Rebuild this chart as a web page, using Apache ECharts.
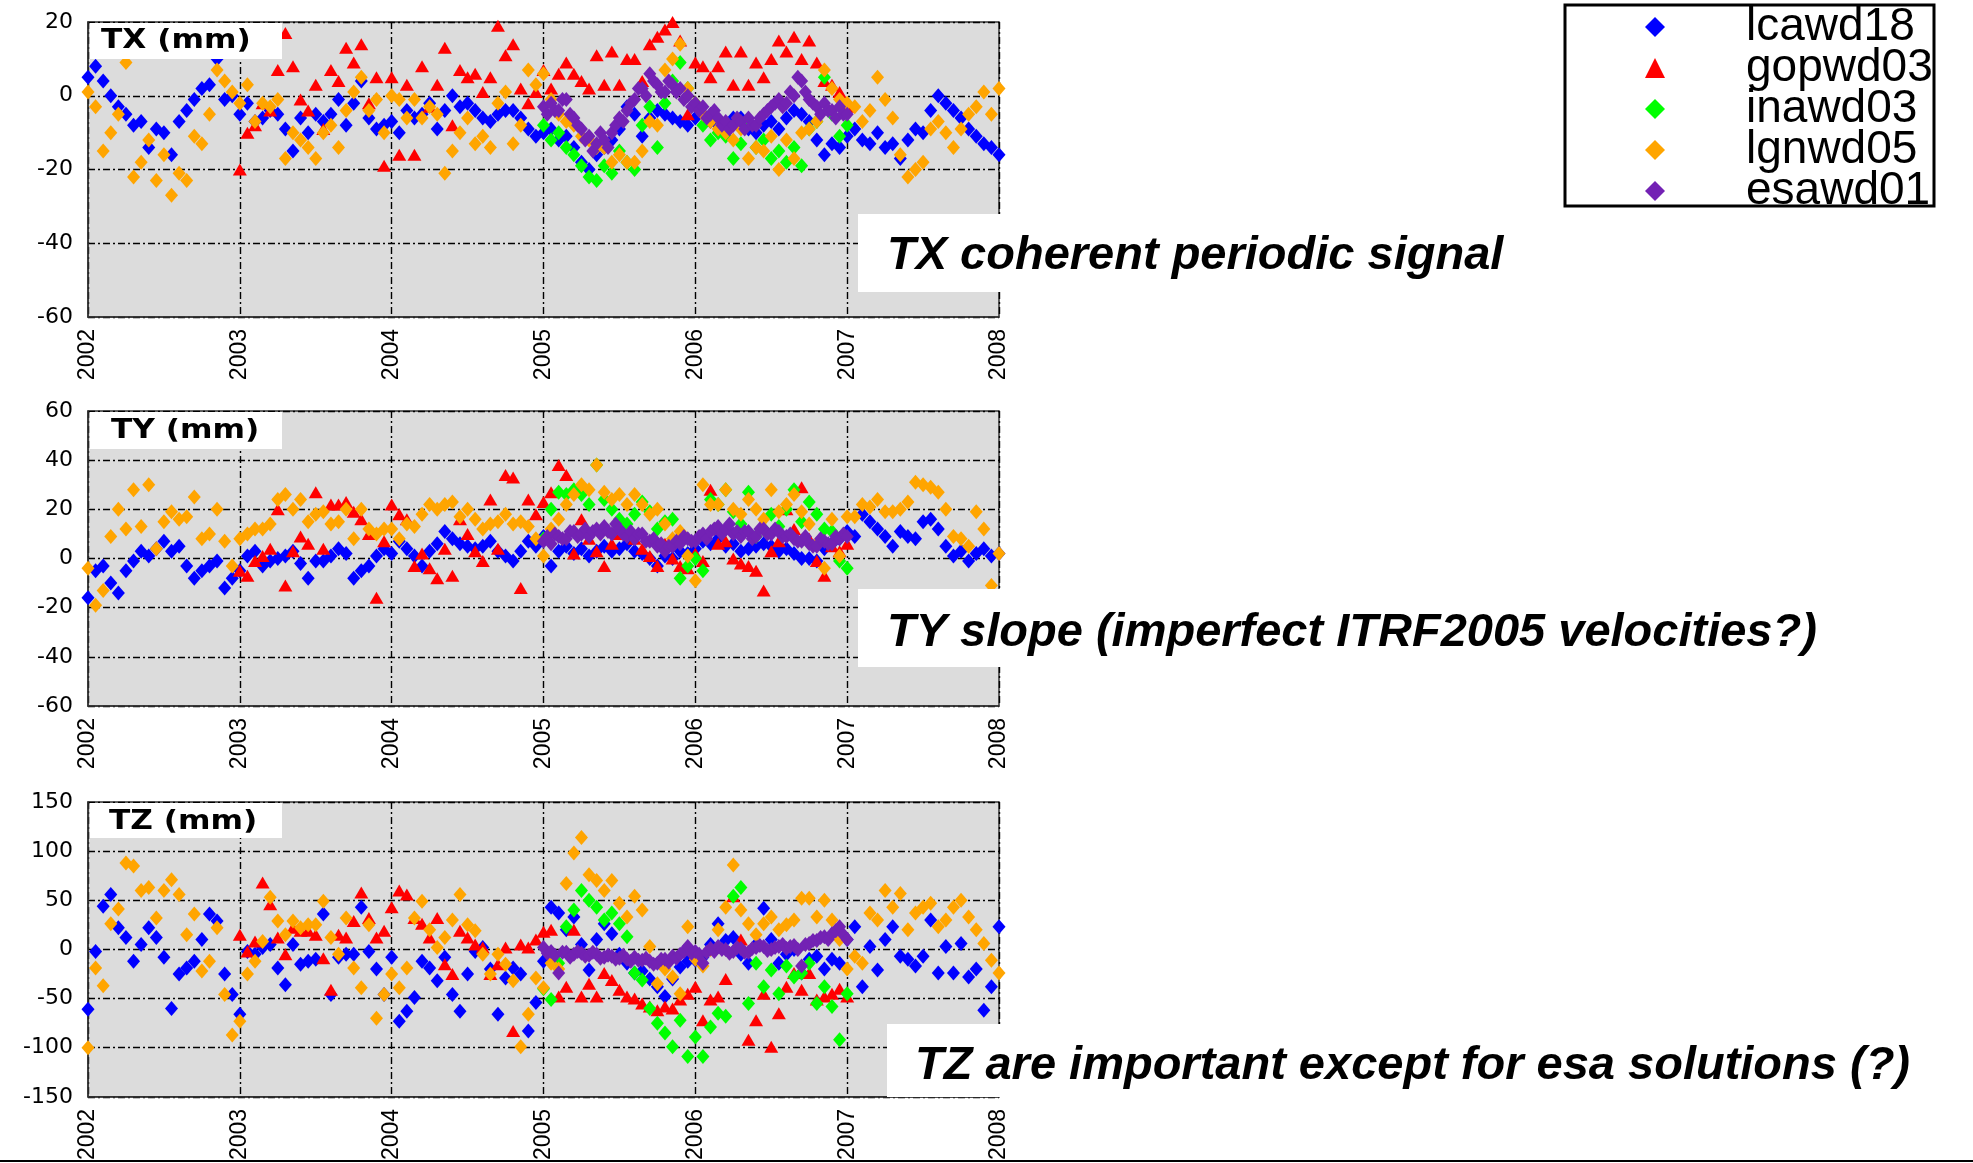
<!DOCTYPE html>
<html>
<head>
<meta charset="utf-8">
<script src="https://cdn.jsdelivr.net/npm/echarts@6/dist/echarts.min.js"></script>
<style>
html,body{margin:0;padding:0;background:#ffffff;}
#chart{width:1973px;height:1163px;}
</style>
</head>
<body>
<div id="chart"></div>
<script>
// ---------- categories / labels ----------
const seriesNames = ['lcawd18', 'gopwd03', 'inawd03', 'lgnwd05', 'esawd01'];
const yearTicks = [2002, 2003, 2004, 2005, 2006, 2007, 2008];
const panelTitles = ['TX (mm)', 'TY (mm)', 'TZ (mm)'];
const annotationTexts = [
  'TX coherent periodic signal',
  'TY slope (imperfect ITRF2005 velocities?)',
  'TZ are important except for esa solutions (?)'
];
// first epoch (decimal year) and sampling step (yr) of each solution series
const seriesStartYear = { lcawd18: 2002, gopwd03: 2003, inawd03: 2005, lgnwd05: 2002, esawd01: 2005 };
const seriesStepYear = { lcawd18: 0.05, gopwd03: 0.05, inawd03: 0.05, lgnwd05: 0.05, esawd01: 0.025 };

// ---------- TX (mm) ----------
const tx_lcawd18 = [
  5, 8, 4, 0, -3, -5, -8, -7, -14, -9, -10, -16, -7, -4, -1, 2, 3, 10, -1, 0,
  -5, -2, -7, -6, -4, -5, -9, -15, -6, -10, -5, -7, -5, -1, -8, -2, 4, -6, -9, -8,
  -7, -10, -4, -6, -5, -2, -9, -4, 0, -3, -2, -4, -6, -7, -5, -4, -4, -6, -9, -11,
  -10, -9, -12, -11, -14, -18, -20, -16, -14, -12, -9, -3, -5, -11, -6, -4, -5, -6, -7, -8,
  -6, -5, -7, -8, -9, -6, -6, -9, -10, -8, -7, -9, -6, -4, -5, -7, -12, -16, -13, -14,
  -11, -9, -12, -13, -10, -14, -13, -17, -12, -9, -10, -4, 0, -2, -4, -6, -9, -11, -13, -14,
  -16
];
const tx_gopwd03 = [
  -20, -10, -8, -2, -4, 7, 17, 8, -1, -4, 3, -9, 7, 4, 13, 9, 14, -2, 5, -19,
  5, -16, 3, -16, 8, -3, 3, 13, -8, 7, 5, 6, 1, 5, 19, 11, 14, 2, -2, 1,
  7, 2, 6, 9, 6, 4, 2, 11, 3, 12, 3, 10, 10, 4, 14, 16, 18, 20, 15, -5,
  9, 8, 5, 8, 12, 3, 12, 3, 9, 5, 10, 15, 12, 16, 10, 15, 9, 4, 3, 1,
  -3
];
const tx_inawd03 = [
  -8, -12, -10, -14, -16, -19, -22, -23, -19, -21, -15, -18, -20, -8, -3, -14, -2, 4, 9, 2,
  -2, -8, -12, -10, -11, -17, -13, -7, -14, -12, -17, -15, -18, -14, -19, -9, -7, 5, -5, -11,
  -8
];
const tx_lgnwd05 = [
  1, -3, -15, -10, -5, 9, -22, -18, -12, -23, -16, -27, -21, -23, -11, -13, -5, 7, 4, 1,
  -2, 3, -7, -2, -3, -1, -17, -10, -12, -14, -17, -10, -8, -14, -4, 1, 5, -4, -1, -10,
  0, -1, -6, -1, -6, -3, -5, -21, -15, -10, -6, -13, -11, -14, -2, 1, -13, -8, 7, 3,
  6, -1, -5, -7, -8, -11, -12, -14, -14, -18, -16, -18, -18, -15, -7, -8, 7, 10, 14, 2,
  -2, -5, -7, -9, -10, -12, -9, -17, -14, -15, -11, -20, -12, -17, -10, -9, -7, 7, 2, -1,
  -2, -3, -7, -4, 5, -1, -6, -16, -22, -20, -18, -9, -7, -10, -14, -9, -5, -3, 1, -5,
  2
];
const tx_esawd01 = [
  -3, -5, -2, -4, -4, -1, -1, -5, -6, -8, -9, -12, -11, -15, -13, -10, -12, -14, -10, -8,
  -6, -7, -4, -2, -1, 2, 2, 0, 6, 4, 3, 1, 1, 4, 3, 1, 2, -1, 0, -3,
  -2, -4, -3, -6, -5, -4, -6, -8, -7, -9, -8, -6, -7, -9, -6, -8, -8, -6, -5, -4,
  -3, -2, -1, -3, -2, 1, 0, 5, 4, 1, -1, -2, -3, -5, -2, -4, -4, -6, -3, -5,
  -5
];

// ---------- TY (mm) ----------
const ty_lcawd18 = [
  -16, -5, -3, -10, -14, -5, -1, 3, 1, 4, 7, 3, 5, -3, -8, -5, -3, -1, -12, -8,
  -5, 1, 3, -3, -1, 0, 1, 3, -2, -8, -1, -1, 1, 4, 2, -8, -5, -3, 1, 4,
  2, 7, 4, 1, -3, 3, 6, 11, 8, 6, 5, 4, 5, 7, 3, 1, -1, 3, 7, 5,
  9, -3, 3, 5, 2, 4, 1, 3, 5, 3, 4, 6, 3, 2, 0, -3, 1, 0, 3, 2,
  4, 7, 6, 8, 5, 6, 3, 4, 5, 6, 5, 3, 4, 2, 0, 0, -1, 4, 6, 8,
  11, 9, 18, 15, 12, 9, 5, 11, 9, 8, 15, 16, 12, 5, 1, 3, -1, 2, 4, 1,
  2
];
const ty_gopwd03 = [
  -5, -7, -1, 1, 4, 20, -11, 3, 9, 6, 27, 4, 22, 22, 23, 19, 16, 10, -16, 7,
  22, 18, 16, -3, 2, -4, -8, 4, -7, 16, 10, 3, -1, 24, 4, 34, 33, -12, 24, 18,
  23, 27, 38, 34, 2, 16, 8, 3, -3, 6, 10, 14, 8, 4, 1, -3, 6, 0, -3, -4,
  2, -1, 28, 6, 7, 0, -2, -3, -5, -13, 3, 7, 20, 12, 29, 8, -1, -7, 5, 3,
  6
];
const ty_inawd03 = [
  8, 20, 27, 26, 28, 26, 22, 38, 24, 20, 16, 14, 18, 23, 19, 12, 15, 16, -8, -3,
  0, -5, 24, 22, 28, 19, 14, 27, 9, 12, 18, 13, 20, 28, 15, 23, 18, 12, 11, -1,
  -4
];
const ty_lgnwd05 = [
  -4, -19, -13, 9, 20, 12, 28, 13, 30, 4, 15, 19, 16, 17, 25, 8, 10, 20, 7, -3,
  8, 10, 12, 12, 14, 24, 26, 20, 24, 15, 18, 19, 14, 15, 20, 8, 20, 12, 10, 12,
  12, 8, 14, 13, 18, 22, 20, 22, 23, 17, 20, 16, 12, 14, 15, 18, 14, 15, 13, 8,
  1, 12, 16, 22, 26, 30, 28, 38, 27, 24, 26, 22, 26, 22, 18, 20, 14, 8, 11, 1,
  -9, 30, 22, 22, 28, 20, 18, 24, 20, 16, 28, 19, 22, 26, 19, 14, 6, -4, 16, 1,
  17, 17, 22, 21, 24, 19, 19, 20, 23, 31, 30, 29, 27, 20, 9, 8, 5, 19, 12, -11,
  2
];
const ty_esawd01 = [
  7, 9, 6, 10, 9, 8, 8, 11, 11, 9, 10, 12, 9, 11, 12, 10, 13, 11, 10, 14,
  12, 10, 9, 11, 8, 10, 10, 7, 7, 8, 5, 6, 3, 5, 5, 7, 6, 9, 8, 7,
  7, 9, 10, 8, 11, 12, 13, 10, 12, 14, 10, 11, 9, 11, 11, 8, 9, 12, 12, 10,
  10, 12, 11, 9, 9, 10, 8, 7, 7, 9, 6, 5, 5, 8, 7, 6, 6, 9, 8, 10,
  9
];

// ---------- TZ (mm) ----------
const tz_lcawd18 = [
  -61, -2, 44, 56, 22, 12, -12, 5, 22, 12, -8, -60, -25, -19, -12, 10, 36, 29, -25, -46,
  -66, -2, -5, 2, 5, -19, -36, 5, -15, -12, -10, 36, -46, -8, -5, -5, 43, -2, -20, -46,
  -8, -73, -63, -49, -12, -19, -32, -8, -46, -63, -25, -2, 2, -20, -66, -29, -19, -25, -83, -54,
  -12, 43, 37, 20, 33, 5, -21, 10, 26, 16, -5, -14, -24, -22, -30, -38, -48, -30, -18, -12,
  -11, -8, 5, 26, 9, 12, -5, -14, 5, 42, 10, -14, -5, 0, -24, -10, -7, -20, -10, -14,
  10, 23, -38, 3, -21, 10, 23, -7, -10, -17, -7, 30, -24, 3, -24, 6, -28, -20, -62, -38,
  23
];
const tz_gopwd03 = [
  15, -2, 8, 68, 46, 12, -5, 22, 19, 19, 15, -9, -41, 15, 12, 29, 58, 32, 12, 19,
  43, 60, 56, 32, 26, 12, 32, -15, -25, 19, 12, 5, 2, -25, -15, 2, -83, 5, 2, 10,
  18, 20, -48, -38, 20, -48, -35, -48, -24, -31, -41, -48, -50, -55, -58, -62, -58, -60, -51, -45,
  -38, -72, -51, -48, -30, 54, 10, -92, -72, -45, -99, -65, -38, -24, -41, -24, -51, -48, -45, -40,
  -48
];
const tz_inawd03 = [
  -40, -51, -14, 23, 40, 60, 50, 43, 30, 37, 26, 13, -24, -31, -60, -75, -85, -99, -72, -109,
  -89, -109, -79, -65, -68, 54, 63, -55, -14, -38, -21, -45, -17, -28, -24, -14, -55, -38, -58, -92,
  -45
];
const tz_lgnwd05 = [
  -100, -19, -37, 26, 41, 88, 85, 60, 63, 32, 60, 71, 56, 15, 36, -22, -12, 22, -46, -87,
  -73, -25, -12, 8, 53, 29, 15, 29, 22, 25, 25, 49, 12, -5, 32, -19, -39, 25, -70, -46,
  -25, -39, -19, 32, 49, 20, 2, 12, 30, 56, 25, 19, -5, -25, -5, -15, -32, -99, -66, -29,
  -39, -14, -20, 67, 98, 114, 76, 70, 60, 70, 47, 33, 54, 40, 3, -35, -20, -28, -45, 23,
  -10, -17, 0, 20, 43, 86, 40, 26, 15, 26, 33, 20, 25, 30, 52, 52, 33, 50, 30, 10,
  -20, -7, -14, 37, 30, 60, 43, 57, 20, 37, 43, 47, 23, 30, 43, 50, 33, 20, 6, -11,
  -24
];
const tz_esawd01 = [
  2, -4, -2, -6, -24, -3, -3, -8, -5, -2, -4, -7, -6, -3, -5, -9, -8, -6, -7, -10,
  -9, -6, -10, -12, -8, -11, -11, -9, -12, -15, -14, -10, -10, -13, -7, -9, -5, -2, 3, -4,
  -2, -5, -14, -3, 1, -2, 3, 0, 0, -4, -2, 2, 1, -3, -3, 1, 2, 4, 3, -1,
  0, 2, 3, 5, 1, 3, 4, 0, -17, 5, 6, 9, 9, 12, 13, 10, 16, 19, 23, 15,
  10
];

// ---------- assemble ----------
const panelValues = [
  { lcawd18: tx_lcawd18, gopwd03: tx_gopwd03, inawd03: tx_inawd03, lgnwd05: tx_lgnwd05, esawd01: tx_esawd01 },
  { lcawd18: ty_lcawd18, gopwd03: ty_gopwd03, inawd03: ty_inawd03, lgnwd05: ty_lgnwd05, esawd01: ty_esawd01 },
  { lcawd18: tz_lcawd18, gopwd03: tz_gopwd03, inawd03: tz_inawd03, lgnwd05: tz_lgnwd05, esawd01: tz_esawd01 }
];
const yRanges = [
  { min: -60, max: 20, interval: 20 },
  { min: -60, max: 60, interval: 20 },
  { min: -150, max: 150, interval: 50 }
];

const styleOf = {
  lcawd18: { color: '#0000ff', symbol: 'diamond', size: [13, 15] },
  gopwd03: { color: '#ff0000', symbol: 'triangle', size: [14, 12] },
  inawd03: { color: '#00ff00', symbol: 'diamond', size: [13, 15] },
  lgnwd05: { color: '#ffa500', symbol: 'diamond', size: [13, 15] },
  esawd01: { color: '#7322b4', symbol: 'diamond', size: [13, 15] }
};

const gridTops = [22, 411, 802];
const grids = gridTops.map(t => ({
  left: 88, top: t, width: 911, height: 295,
  show: true, backgroundColor: '#dcdcdc', borderColor: '#333', borderWidth: 1.5
}));

const dashDot = [7, 3, 2, 3];
const xAxes = gridTops.map((t, i) => ({
  type: 'value', gridIndex: i, min: yearTicks[0], max: yearTicks[yearTicks.length - 1], interval: 1,
  axisLine: { show: true, onZero: false, lineStyle: { color: '#333', width: 1.5 } },
  axisTick: { show: false },
  splitLine: { show: true, lineStyle: { color: '#000', width: 1.4, type: dashDot } },
  axisLabel: {
    rotate: 90, margin: 12, color: '#000', fontFamily: 'Liberation Sans', fontSize: 23,
    formatter: v => String(v)
  }
}));
const yAxes = yRanges.map((r, i) => ({
  type: 'value', gridIndex: i, min: r.min, max: r.max, interval: r.interval,
  axisLine: { show: true, onZero: false, lineStyle: { color: '#333', width: 1.5 } },
  axisTick: { show: false },
  splitLine: { show: true, lineStyle: { color: '#000', width: 1.4, type: dashDot } },
  axisLabel: { margin: 15, color: '#000', fontFamily: 'DejaVu Sans', fontSize: 22 }
}));

const series = [];
panelValues.forEach((pv, p) => {
  seriesNames.forEach((name, k) => {
    const st = styleOf[name];
    const start = seriesStartYear[name];
    const step = seriesStepYear[name];
    series.push({
      type: 'scatter', name: name, xAxisIndex: p, yAxisIndex: p,
      symbol: st.symbol, symbolSize: st.size,
      itemStyle: { color: st.color, opacity: 1 },
      z: 2 + k,
      silent: true,
      data: pv[name].map((v, i) => [+(start + i * step).toFixed(3), v])
    });
  });
});

const titleBoxes = [
  { x: 90, y: 23, w: 192, h: 36, tx: 101, ty: 41 },
  { x: 90, y: 412, w: 192, h: 37, tx: 111, ty: 431 },
  { x: 90, y: 803, w: 192, h: 35, tx: 109, ty: 822 }
];
const noteBoxes = [
  { x: 858, y: 214, w: 680, h: 78, tx: 887, ty: 256 },
  { x: 858, y: 589, w: 990, h: 78, tx: 887, ty: 633 },
  { x: 887, y: 1024, w: 1060, h: 73, tx: 915, ty: 1066 }
];

const graphic = [];
titleBoxes.forEach((b, i) => {
  graphic.push({ type: 'rect', z: 100, shape: { x: b.x, y: b.y, width: b.w, height: b.h }, style: { fill: '#ffffff' } });
  graphic.push({ type: 'text', z: 101, x: b.tx, y: b.ty, scaleX: 1.2,
    style: { text: panelTitles[i], font: 'bold 26px "DejaVu Sans"', fill: '#000', verticalAlign: 'middle', textVerticalAlign: 'middle' } });
});
noteBoxes.forEach((b, i) => {
  graphic.push({ type: 'rect', z: 100, shape: { x: b.x, y: b.y, width: b.w, height: b.h }, style: { fill: '#ffffff' } });
  graphic.push({ type: 'text', z: 101, x: b.tx, y: b.ty,
    style: { text: annotationTexts[i], font: 'italic bold 47px "Liberation Sans"', fill: '#000', verticalAlign: 'middle', textVerticalAlign: 'middle' } });
});
// legend frame
graphic.push({ type: 'rect', z: 100, shape: { x: 1565, y: 5, width: 369, height: 201 }, style: { fill: 'none', stroke: '#000', lineWidth: 3 } });
// bottom rule of the slide
graphic.push({ type: 'line', z: 100, shape: { x1: 0, y1: 1161, x2: 1973, y2: 1161 }, style: { stroke: '#000', lineWidth: 2 } });

const chart = echarts.init(document.getElementById('chart'), null, { renderer: 'canvas' });
chart.setOption({
  animation: false,
  backgroundColor: '#ffffff',
  grid: grids,
  xAxis: xAxes,
  yAxis: yAxes,
  legend: {
    data: seriesNames,
    orient: 'vertical',
    left: 1645, top: 4,
    padding: 0,
    itemGap: -5,
    itemWidth: 20, itemHeight: 20,
    selectedMode: false,
    textStyle: { fontFamily: 'Liberation Sans', fontSize: 46, color: '#000', padding: [0, 0, 0, 76] }
  },
  graphic: graphic,
  series: series
});
</script>
</body>
</html>
